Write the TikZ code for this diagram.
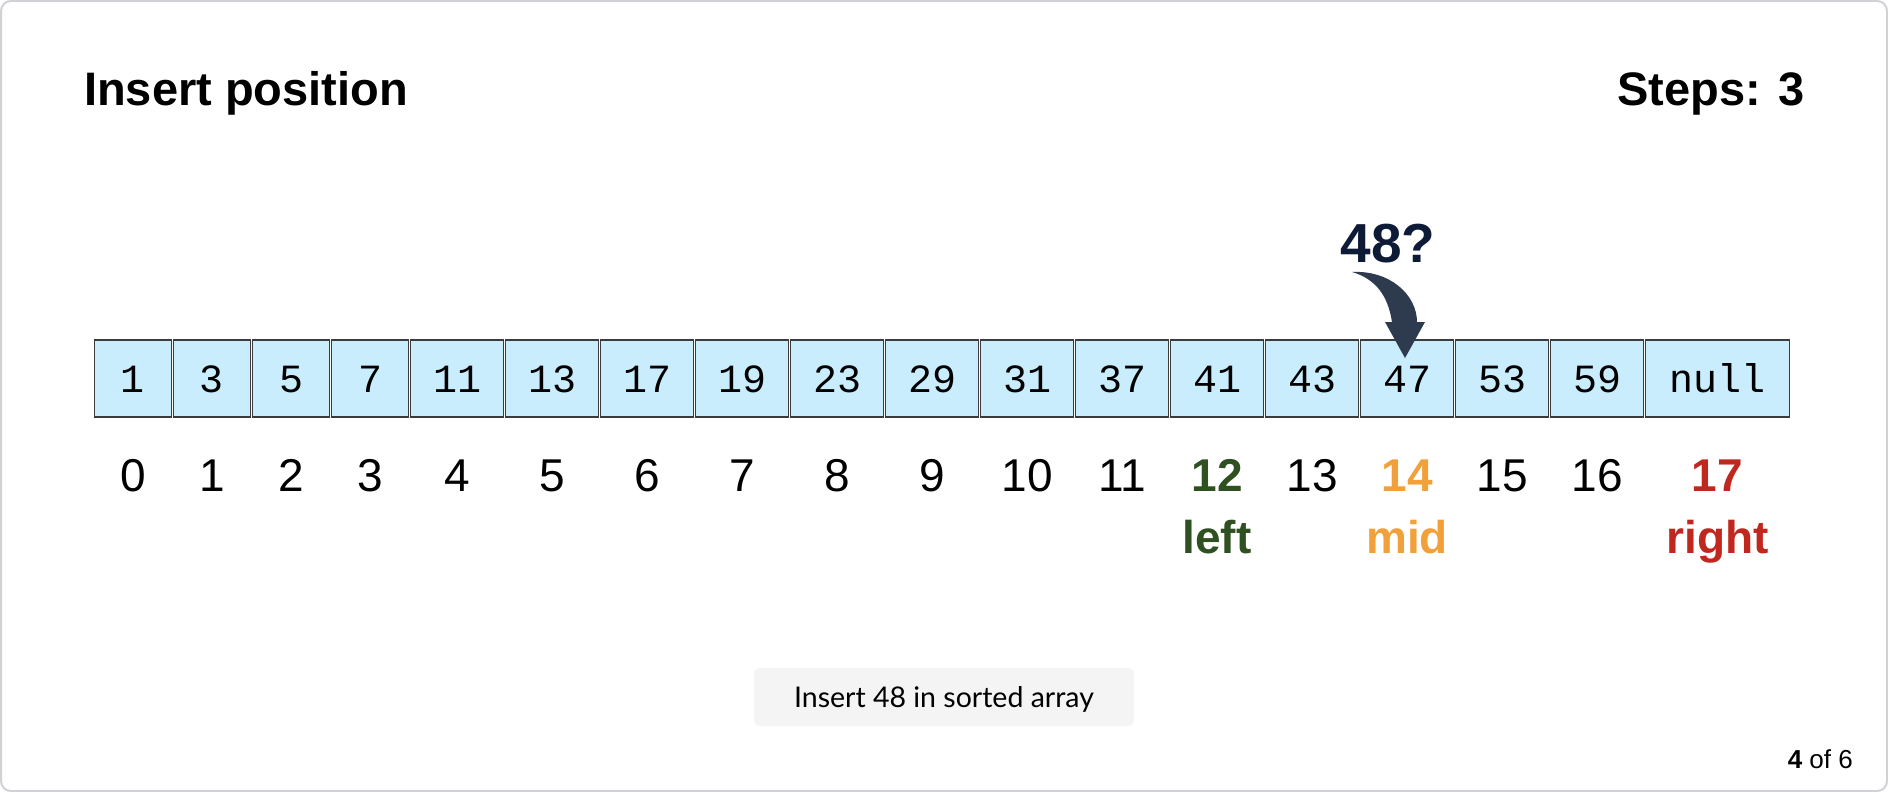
\documentclass[tikz,border=0pt]{standalone}
\usepackage{fontspec}
\usepackage{xcolor}
\usetikzlibrary{positioning}
\setmainfont{Liberation Sans}
\setmonofont{Liberation Mono}
\newfontfamily\btnfont{Lato}
\definecolor{cellfill}{HTML}{C9EDFC}
\definecolor{celledge}{HTML}{3C3C3C}
\definecolor{leftgreen}{HTML}{2F5020}
\definecolor{midorange}{HTML}{F2A03A}
\definecolor{rightred}{HTML}{C0281F}
\definecolor{asknavy}{HTML}{0E1B36}
\definecolor{pointerc}{HTML}{2E3B4F}
\definecolor{framec}{HTML}{D2D2D6}
\definecolor{btnfill}{HTML}{F4F4F4}

\begin{document}
\begin{tikzpicture}[x=1pt, y=-1pt,
    head/.style={inner sep=0, font=\bfseries\fontsize{47}{56}\selectfont},
    cell/.style={draw=celledge, line width=1.5pt, fill=cellfill, minimum height=77pt, outer sep=0,
        inner sep=0, text height=27pt, text depth=0pt, font=\ttfamily\fontsize{40}{48}\selectfont},
    idx/.style={inner sep=0, anchor=base, font=\fontsize{46}{55}\selectfont},
    lo/.style={idx, text=leftgreen, font=\bfseries\fontsize{46}{55}\selectfont},
    mi/.style={idx, text=midorange, font=\bfseries\fontsize{46}{55}\selectfont},
    hi/.style={idx, text=rightred, font=\bfseries\fontsize{46}{55}\selectfont},
    pointer/.style={fill=pointerc}]
    \useasboundingbox (0,0) rectangle (1888,792);
    \draw[framec, line width=2pt, rounded corners=10pt] (1,1) rectangle (1887,791);
    \node[head, anchor=base west] (title) at (84,105) {Insert position};
    \node[head, anchor=base east] (steps) at (1805,105) {Steps: 3};
    % array cells and their indices
    \foreach \i/\v/\w/\s [remember=\i as \j (initially 0)] in {0/1/77/idx, 1/3/77/idx, 2/5/77/idx,
        3/7/77/idx, 4/11/93/idx, 5/13/93/idx, 6/17/93/idx, 7/19/93/idx, 8/23/93/idx, 9/29/93/idx,
        10/31/93/idx, 11/37/93/idx, 12/41/93/lo, 13/43/93/idx, 14/47/93/mi, 15/53/93/idx,
        16/59/93/idx, 17/null/144/hi} {
        \ifnum\i=0
            \node[cell, minimum width=\w pt, anchor=north west] (c\i) at (94.5,340) {\v};
        \else
            \node[cell, minimum width=\w pt, right=2pt of c\j] (c\i) {\v};
        \fi
        \node[\s] (n\i) at (c\i.center |- 0,491) {\i};
    }
    \node[lo] (lleft) at (c12.center |- 0,553) {left};
    \node[mi] (lmid) at (c14.center |- 0,553) {mid};
    \node[hi] (lright) at (c17.center |- 0,553) {right};
    % value being searched
    \node[inner sep=0, anchor=base, text=asknavy, font=\bfseries\fontsize{55}{66}\selectfont] (q) at (1388,262) {48?};
    \coordinate (tail) at (1352,272);
    \coordinate (tip) at (1405,358);
    \fill[pointer] (tail) .. controls (1390,270) and (1417,295) .. (1417,322) -- (1425,322) -- (tip)
        -- (1385,322) -- (1392,322) .. controls (1388,296) and (1376,279) .. (tail) -- cycle;
    \node[fill=btnfill, rounded corners=6pt, minimum width=380pt, minimum height=58pt, inner sep=0,
        text height=20pt, text depth=0pt, font=\btnfont\fontsize{28.5}{34}\selectfont] (hint) at (944,697) {Insert 48 in sorted array};
    \node[inner sep=0, anchor=base east, font=\fontsize{26}{31}\selectfont] (page) at (1853,768) {\textbf{4} of 6};
\end{tikzpicture}
\end{document}
